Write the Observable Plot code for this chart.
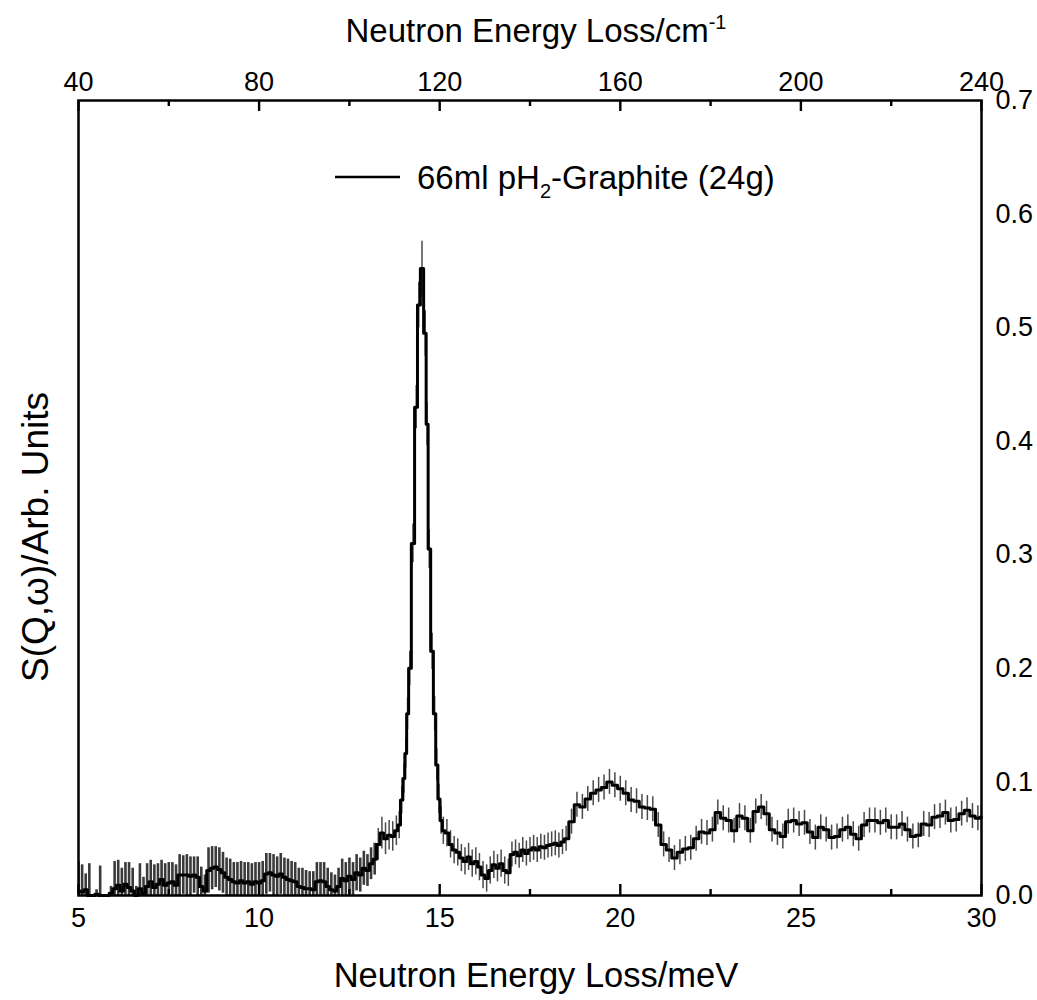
<!DOCTYPE html>
<html>
<head>
<meta charset="utf-8">
<script src="https://cdn.jsdelivr.net/npm/d3@7"></script>
<script src="https://cdn.jsdelivr.net/npm/@observablehq/plot@0.6"></script>
<style>
  html, body { margin: 0; padding: 0; background: #fff; }
  #chart svg { display: block; }
</style>
</head>
<body>
<div id="chart"></div>
<script>
// ---- Data ----
// Low-energy region, meV
const energyLow = [5.0,5.1,5.2,5.3,5.4,5.5,5.6,5.7,5.8,5.9,6.0,6.1,6.2,6.3,6.4,6.5,6.6,6.7,6.8,6.9,
  7.0,7.1,7.2,7.3,7.4,7.5,7.6,7.7,7.8,7.9,8.0,8.1,8.2,8.3,8.4,8.5,8.6,8.7,8.8,8.9,
  9.0,9.1,9.2,9.3,9.4,9.5,9.6,9.7,9.8,9.9,10.0,10.1,10.2,10.3,10.4,10.5,10.6,10.7,10.8,10.9,
  11.0,11.1,11.2,11.3,11.4,11.5,11.6,11.7,11.8,11.9,12.0,12.1,12.2,12.3,12.4,12.5,12.6,12.7,12.8,12.9];
const intensityLow = [0.004,0.003,0.005,0.000,0.000,0.001,0.000,0.000,0.000,0.002,0.006,0.009,0.004,0.010,0.007,0.004,0.000,0.006,0.002,0.008,
  0.012,0.007,0.010,0.014,0.009,0.011,0.012,0.009,0.018,0.018,0.018,0.017,0.018,0.016,0.008,0.004,0.022,0.024,0.025,0.023,
  0.020,0.016,0.014,0.012,0.011,0.013,0.011,0.012,0.010,0.012,0.011,0.013,0.019,0.020,0.018,0.017,0.019,0.016,0.014,0.013,
  0.012,0.008,0.007,0.006,0.006,0.005,0.012,0.013,0.012,0.008,0.005,0.004,0.008,0.015,0.013,0.017,0.014,0.020,0.018,0.024];
const errorLow = [0.026,0.024,0.014,0.028,0,0.004,0.026,0,0,0.006,0.024,0.022,0.020,0.019,0.022,0.020,0.008,0.022,0.014,0.020,
  0.019,0.020,0.018,0.017,0.019,0.018,0.017,0.018,0.018,0.017,0.018,0.017,0.016,0.018,0.017,0.014,0.020,0.019,0.018,0.019,
  0.018,0.017,0.018,0.017,0.018,0.017,0.018,0.017,0.018,0.017,0.018,0.017,0.018,0.017,0.018,0.017,0.018,0.017,0.018,0.017,
  0.017,0.016,0.017,0.016,0.015,0.016,0.017,0.016,0.017,0.016,0.015,0.014,0.016,0.017,0.016,0.016,0.015,0.016,0.015,0.015];

// Main peak region
const energyPeak = [13.0,13.1,13.2,13.3,13.4,13.5,13.6,13.7,13.8,13.88,13.95,14.01,14.06,14.11,14.17,14.26,14.35,14.42,14.51,
  14.6,14.65,14.71,14.79,14.86,14.92,14.98,15.04];
const intensityPeak = [0.022,0.028,0.032,0.045,0.055,0.050,0.053,0.052,0.057,0.062,0.084,0.103,0.125,0.160,0.200,0.310,0.430,0.520,0.552,
  0.495,0.415,0.305,0.215,0.160,0.115,0.085,0.066];
const errorPeak = [0.014,0.014,0.014,0.014,0.014,0.014,0.013,0.013,0.013,0.012,0.012,0.013,0.013,0.014,0.015,0.017,0.019,0.020,0.024,
  0.020,0.019,0.017,0.016,0.015,0.014,0.013,0.012];

// Valley between peaks
const energyMid = [15.1,15.2,15.3,15.4,15.5,15.6,15.7,15.8,15.9,16.0,16.1,16.2,16.3,16.4,16.5,16.6,16.7,16.8,16.9,
  17.0,17.1,17.2,17.3,17.4,17.5,17.6,17.7,17.8,17.9,18.0,18.1,18.2,18.3,18.4];
const intensityMid = [0.057,0.055,0.045,0.040,0.038,0.033,0.030,0.034,0.028,0.030,0.025,0.018,0.015,0.022,0.027,0.024,0.028,0.022,0.020,
  0.036,0.038,0.035,0.040,0.037,0.040,0.042,0.040,0.043,0.042,0.044,0.045,0.046,0.044,0.047];
const errorMid = [0.012,0.012,0.012,0.012,0.012,0.012,0.012,0.012,0.012,0.012,0.012,0.012,0.012,0.012,0.012,0.012,0.012,0.012,0.012,
  0.011,0.011,0.011,0.011,0.011,0.011,0.011,0.011,0.011,0.011,0.011,0.011,0.011,0.011,0.011];

// High-energy region
const energyHigh = [18.5,18.65,18.8,18.95,19.1,19.25,19.4,19.55,19.7,19.85,20.0,20.15,20.3,20.45,20.6,20.75,20.9,21.05,21.2,21.35,
  21.5,21.65,21.8,21.95,22.1,22.25,22.4,22.55,22.7,22.85,23.0,23.15,23.3,23.45,23.6,23.75,23.9,24.05,24.2,24.35,
  24.5,24.65,24.8,24.95,25.1,25.25,25.4,25.55,25.7,25.85,26.0,26.15,26.3,26.45,26.6,26.75,26.9,27.05,27.2,27.35,
  27.5,27.65,27.8,27.95,28.1,28.25,28.4,28.55,28.7,28.85,29.0,29.15,29.3,29.45,29.6,29.75,29.9,30.0];
const intensityHigh = [0.050,0.065,0.080,0.078,0.085,0.090,0.093,0.095,0.100,0.097,0.094,0.090,0.084,0.083,0.078,0.077,0.076,0.062,0.045,0.040,
  0.033,0.038,0.041,0.042,0.050,0.056,0.055,0.058,0.073,0.068,0.066,0.057,0.070,0.068,0.057,0.074,0.078,0.072,0.058,0.055,
  0.052,0.065,0.066,0.063,0.064,0.056,0.051,0.060,0.058,0.051,0.052,0.058,0.060,0.054,0.050,0.062,0.066,0.066,0.064,0.066,
  0.060,0.060,0.063,0.058,0.052,0.053,0.063,0.062,0.069,0.070,0.073,0.066,0.067,0.072,0.075,0.070,0.068,0.069];
const errorHigh = [0.011,0.011,0.011,0.011,0.011,0.011,0.011,0.011,0.011,0.011,0.011,0.011,0.011,0.011,0.011,0.011,0.011,0.011,0.011,0.011,
  0.011,0.011,0.011,0.011,0.011,0.011,0.011,0.011,0.011,0.011,0.011,0.011,0.011,0.011,0.011,0.011,0.011,0.011,0.011,0.011,
  0.011,0.011,0.011,0.011,0.011,0.011,0.011,0.011,0.011,0.011,0.011,0.011,0.011,0.011,0.011,0.011,0.011,0.011,0.011,0.011,
  0.011,0.011,0.011,0.011,0.011,0.011,0.011,0.011,0.011,0.011,0.011,0.011,0.011,0.011,0.011,0.011,0.011,0.011];

// Axes
const bottomTicks = [5, 10, 15, 20, 25, 30];
const bottomMinorTicks = [7.5, 12.5, 17.5, 22.5, 27.5];
const topTickLabels = ["40", "80", "120", "160", "200", "240"]; // cm^-1 at the same positions
const rightTicks = [0, 0.1, 0.2, 0.3, 0.4, 0.5, 0.6, 0.7];

const energy = [...energyLow, ...energyPeak, ...energyMid, ...energyHigh];
const intensity = [...intensityLow, ...intensityPeak, ...intensityMid, ...intensityHigh];
const errorBar = [...errorLow, ...errorPeak, ...errorMid, ...errorHigh];
const data = energy.map((E, i) => ({E, I: intensity[i], err: errorBar[i]}));
const lowData = data.filter(d => d.E < 13.3);
const restData = data.filter(d => d.E >= 13.3);

const font = "'Liberation Sans', Arial, Helvetica, sans-serif";

// tick lengths in pixels, converted to y-units of the 0..0.7 domain over the 795px frame
const frameH = 1000 - 100 - 105;
const yMax = 0.7;
const majorLen = yMax * 11 / frameH;
const minorLen = yMax * 6 / frameH;

const chart = Plot.plot({
  width: 1037,
  height: 1000,
  marginLeft: 78,
  marginRight: 56,
  marginTop: 100,
  marginBottom: 105,
  x: {domain: [5, 30]},
  y: {domain: [0, yMax]},
  style: {fontFamily: font, fontSize: "26px", color: "#000", background: "#fff", overflow: "visible"},
  marks: [
    Plot.ruleX(lowData, {x: "E", y1: d => Math.max(0, d.I - d.err), y2: d => d.I + d.err, stroke: "#3a3a3a", strokeWidth: 2.6, clip: true}),
    Plot.ruleX(restData, {x: "E", y1: d => Math.max(0, d.I - d.err), y2: d => d.I + d.err, stroke: "#4a4a4a", strokeWidth: 1.5, clip: true}),
    Plot.line(data, {x: "E", y: "I", curve: "step", stroke: "#000", strokeWidth: 3}),
    // inward ticks on bottom and top edges
    Plot.ruleX(bottomTicks, {x: d => d, y1: 0, y2: majorLen, stroke: "#000", strokeWidth: 2.4}),
    Plot.ruleX(bottomMinorTicks, {x: d => d, y1: 0, y2: minorLen, stroke: "#000", strokeWidth: 2.4}),
    Plot.ruleX(bottomTicks, {x: d => d, y1: yMax - majorLen, y2: yMax, stroke: "#000", strokeWidth: 2.4}),
    Plot.ruleX(bottomMinorTicks, {x: d => d, y1: yMax - minorLen, y2: yMax, stroke: "#000", strokeWidth: 2.4}),
    // tick labels
    Plot.axisX({anchor: "bottom", ticks: bottomTicks, tickSize: 0, tickPadding: 12, label: null, fontSize: 27}),
    Plot.axisX({anchor: "top", ticks: bottomTicks, tickSize: 0, tickPadding: 10, label: null, fontSize: 27,
      tickFormat: d => topTickLabels[bottomTicks.indexOf(d)]}),
    Plot.axisY({anchor: "right", ticks: rightTicks, tickSize: 0, tickPadding: 14, label: null, fontSize: 27,
      tickFormat: d => d.toFixed(1)}),
    Plot.frame({stroke: "#000", strokeWidth: 2.5})
  ]
});

document.getElementById("chart").appendChild(chart);

// Titles and legend with super/subscripts
const svgSel = d3.select(chart);
const gText = svgSel.append("g").attr("font-family", font).attr("fill", "#000").attr("text-anchor", "start");

const topTitle = gText.append("text").attr("x", 536).attr("y", 42).attr("text-anchor", "middle").attr("font-size", 33);
topTitle.append("tspan").text("Neutron Energy Loss/cm");
topTitle.append("tspan").attr("dy", -13).attr("font-size", 20).text("-1");

gText.append("text").attr("x", 536).attr("y", 987).attr("text-anchor", "middle").attr("font-size", 34.5)
  .text("Neutron Energy Loss/meV");

gText.append("text").attr("transform", "translate(48,537) rotate(-90)").attr("text-anchor", "middle").attr("font-size", 37)
  .text("S(Q,\u03C9)/Arb. Units");

gText.append("line").attr("x1", 335).attr("x2", 400).attr("y1", 177).attr("y2", 177).attr("stroke", "#000").attr("stroke-width", 2.5);
const legText = gText.append("text").attr("x", 417).attr("y", 189).attr("text-anchor", "start").attr("font-size", 33);
legText.append("tspan").text("66ml pH");
legText.append("tspan").attr("dy", 9).attr("font-size", 20).text("2");
legText.append("tspan").attr("dy", -9).text("-Graphite (24g)");
</script>
</body>
</html>
